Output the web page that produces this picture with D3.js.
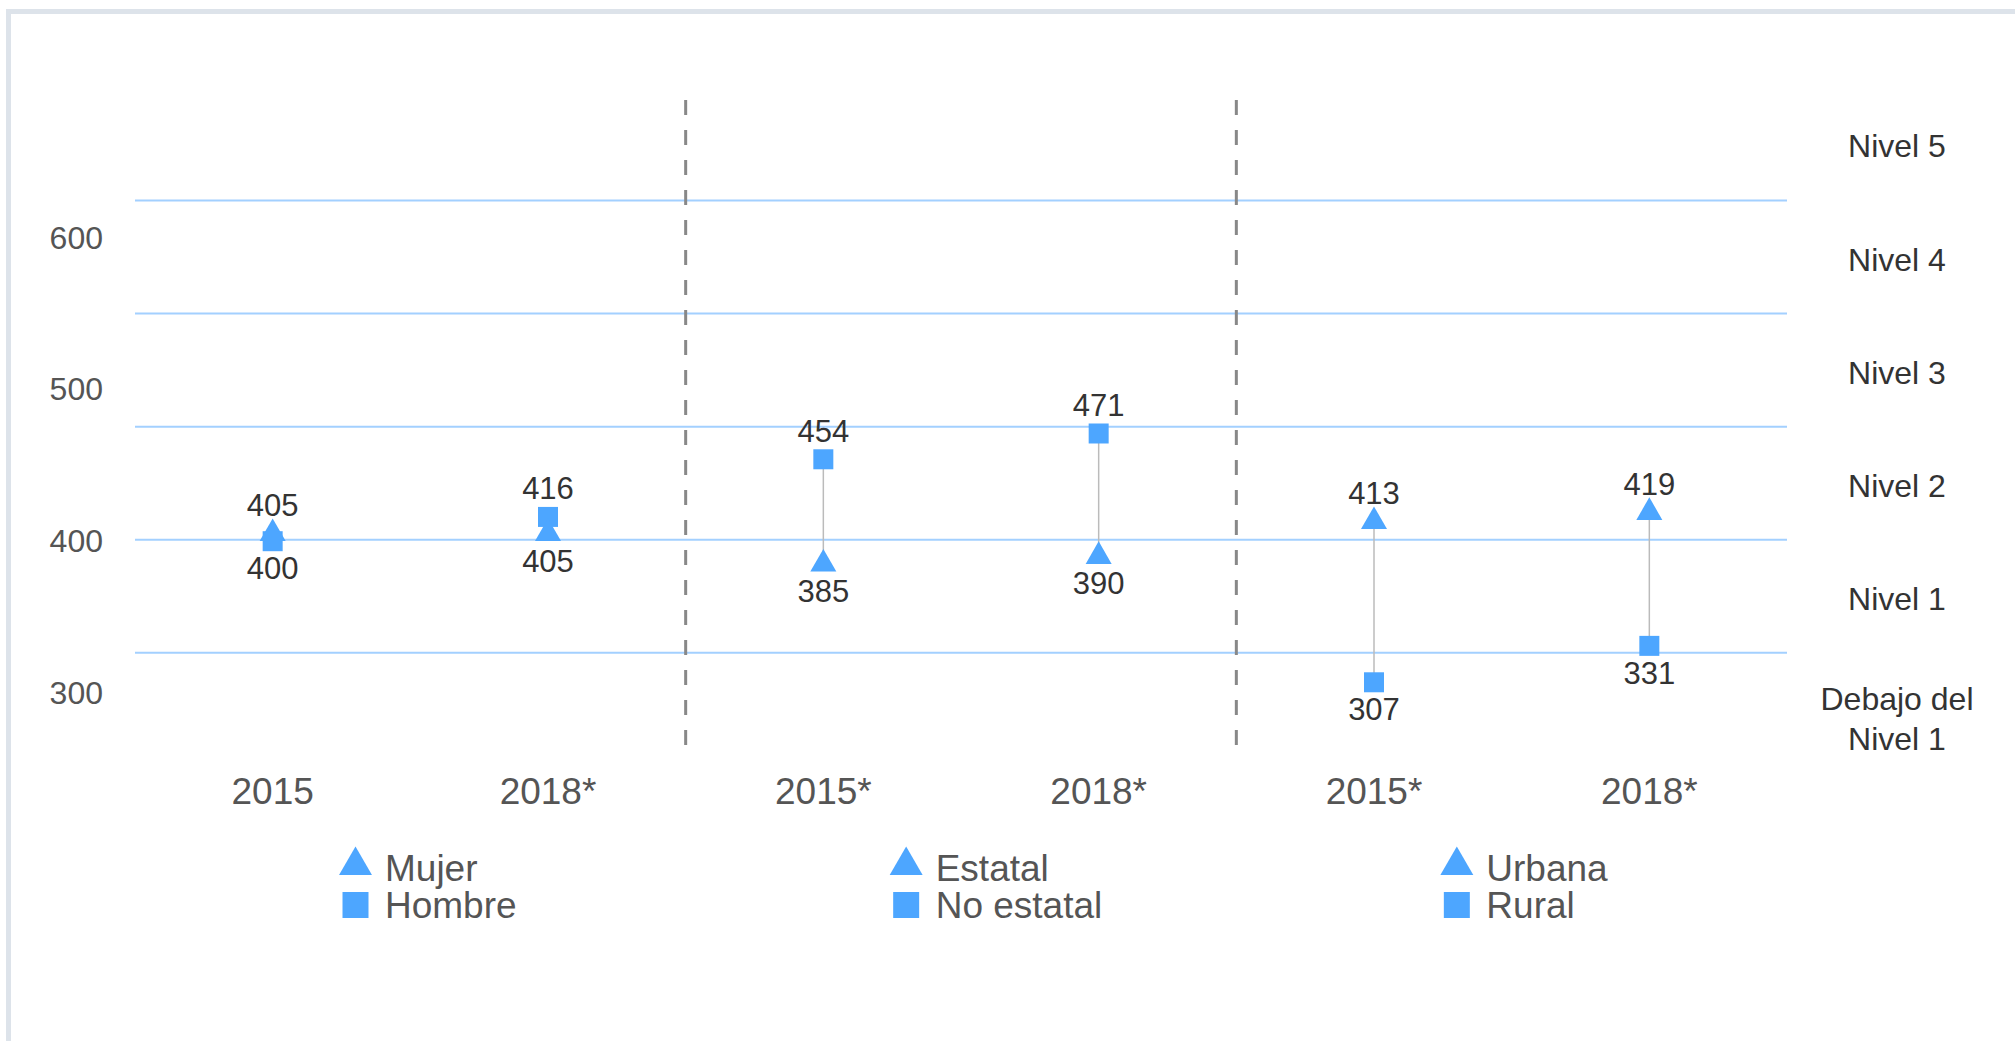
<!DOCTYPE html>
<html>
<head>
<meta charset="utf-8">
<script src="https://cdn.jsdelivr.net/npm/d3@7"></script>
<style>
  body { margin: 0; background: #fff; }
  svg { display: block; font-family: "Liberation Sans", Arial, sans-serif; }
</style>
</head>
<body>
<svg width="2015" height="1041"></svg>
<script>
const svg = d3.select("svg");
const width = 2015;
const height = 1041;

// data
const categories = ['2015', '2018*', '2015*', '2018*', '2015*', '2018*'];
const triangleValues = [405, 405, 385, 390, 413, 419];
const squareValues = [400, 416, 454, 471, 307, 331];
const yTicks = [300, 400, 500, 600];
const levelCuts = [326.4, 401, 475.5, 550.1, 624.6];
const levelNames = [['Debajo del', 'Nivel 1'], ['Nivel 1'], ['Nivel 2'], ['Nivel 3'], ['Nivel 4'], ['Nivel 5']];
const legendGroups = [['Mujer', 'Hombre'], ['Estatal', 'No estatal'], ['Urbana', 'Rural']];

const render = () => {
  const markerColor = '#4da6ff';
  const gridColor = '#a3d0ff';
  const plotLeft = 135;
  const plotRight = 1787;

  const data = categories.map((c, i) => ({
    i: i, label: c, tri: triangleValues[i], sq: squareValues[i]
  }));

  // scales
  const xScale = d3.scaleBand()
    .domain(data.map(d => d.i))
    .range([plotLeft, plotRight])
    .padding(0);
  const xCenter = i => xScale(i) + xScale.bandwidth() / 2;

  const yScale = d3.scaleLinear()
    .domain([300, 600])
    .range([692.9, 237.8]);

  // frame
  svg.append('rect')
    .attr('x', 8.5).attr('y', 11.5)
    .attr('width', 2200).attr('height', 1200)
    .attr('fill', 'none')
    .attr('stroke', '#dde3ea')
    .attr('stroke-width', 5);

  // level lines
  svg.append('g').selectAll('line').data(levelCuts)
    .enter().append('line')
      .attr('x1', plotLeft).attr('x2', plotRight)
      .attr('y1', d => yScale(d)).attr('y2', d => yScale(d))
      .attr('stroke', gridColor)
      .attr('stroke-width', 2);

  // y axis labels
  const yAxis = d3.axisLeft(yScale).tickValues(yTicks).tickSize(0).tickPadding(0);
  const yAxisG = svg.append('g')
    .attr('transform', 'translate(103,0)')
    .call(yAxis);
  yAxisG.select('.domain').remove();
  yAxisG.selectAll('text')
    .attr('font-size', 32)
    .attr('font-family', '"Liberation Sans", Arial, sans-serif')
    .attr('fill', '#555');

  // level labels on the right
  const step = levelCuts[1] - levelCuts[0];
  const bounds = [levelCuts[0] - step].concat(levelCuts, [levelCuts[levelCuts.length - 1] + step]);
  const levelG = svg.append('g')
    .attr('font-size', 32)
    .attr('fill', '#333')
    .attr('text-anchor', 'middle');
  levelNames.forEach((lines, k) => {
    const mid = yScale((bounds[k] + bounds[k + 1]) / 2) + (lines.length > 1 ? 9 : 2);
    lines.forEach((t, j) => {
      levelG.append('text')
        .attr('x', 1897)
        .attr('y', mid + (j - (lines.length - 1) / 2) * 40)
        .attr('dy', '0.36em')
        .text(t);
    });
  });

  // dashed separators between panels
  svg.append('g').selectAll('line').data([2, 4])
    .enter().append('line')
      .attr('x1', d => xScale(d)).attr('x2', d => xScale(d))
      .attr('y1', 100).attr('y2', 758)
      .attr('stroke', '#888')
      .attr('stroke-width', 3)
      .attr('stroke-dasharray', '15,15');

  // x axis labels
  const xAxis = d3.axisBottom(xScale).tickFormat(i => categories[i]).tickSize(0).tickPadding(0);
  const xAxisG = svg.append('g')
    .attr('transform', 'translate(0,778)')
    .call(xAxis);
  xAxisG.select('.domain').remove();
  xAxisG.selectAll('text')
    .attr('font-size', 37)
    .attr('font-family', '"Liberation Sans", Arial, sans-serif')
    .attr('fill', '#555');

  // connectors
  svg.append('g').selectAll('line').data(data)
    .enter().append('line')
      .attr('x1', d => xCenter(d.i)).attr('x2', d => xCenter(d.i))
      .attr('y1', d => yScale(d.tri)).attr('y2', d => yScale(d.sq))
      .attr('stroke', '#bbb')
      .attr('stroke-width', 1.5);

  const triangle = d3.symbol().type(d3.symbolTriangle).size(293);
  const square = d3.symbol().type(d3.symbolSquare).size(400);

  const marks = svg.append('g');
  marks.selectAll('.sq').data(data)
    .enter().append('path')
      .attr('class', 'sq')
      .attr('d', square)
      .attr('transform', d => `translate(${xCenter(d.i)},${yScale(d.sq)})`)
      .attr('fill', markerColor);
  marks.selectAll('.tri').data(data)
    .enter().append('path')
      .attr('class', 'tri')
      .attr('d', triangle)
      .attr('transform', d => `translate(${xCenter(d.i)},${yScale(d.tri)})`)
      .attr('fill', markerColor);

  // value labels: higher value above, lower below
  const labelG = svg.append('g')
    .attr('font-size', 31)
    .attr('fill', '#333')
    .attr('text-anchor', 'middle');
  data.forEach(d => {
    const hi = Math.max(d.tri, d.sq);
    const lo = Math.min(d.tri, d.sq);
    labelG.append('text')
      .attr('x', xCenter(d.i))
      .attr('y', yScale(hi) - 17.5)
      .text(hi);
    labelG.append('text')
      .attr('x', xCenter(d.i))
      .attr('y', yScale(lo) + 38)
      .text(lo);
  });

  // legends, one per panel
  const legendTri = d3.symbol().type(d3.symbolTriangle).size(470);
  const legendSq = d3.symbol().type(d3.symbolSquare).size(676);
  legendGroups.forEach((names, k) => {
    const lg = svg.append('g')
      .attr('transform', `translate(${xScale(k * 2) + 220.5},0)`);
    lg.append('path')
      .attr('d', legendTri)
      .attr('transform', 'translate(0,865.5)')
      .attr('fill', markerColor);
    lg.append('path')
      .attr('d', legendSq)
      .attr('transform', 'translate(0,905)')
      .attr('fill', markerColor);
    names.forEach((n, j) => {
      lg.append('text')
        .attr('x', 29.5)
        .attr('y', j === 0 ? 880.7 : 918.3)
        .attr('font-size', 37)
        .attr('fill', '#555')
        .text(n);
    });
  });
};

render();
</script>
</body>
</html>
